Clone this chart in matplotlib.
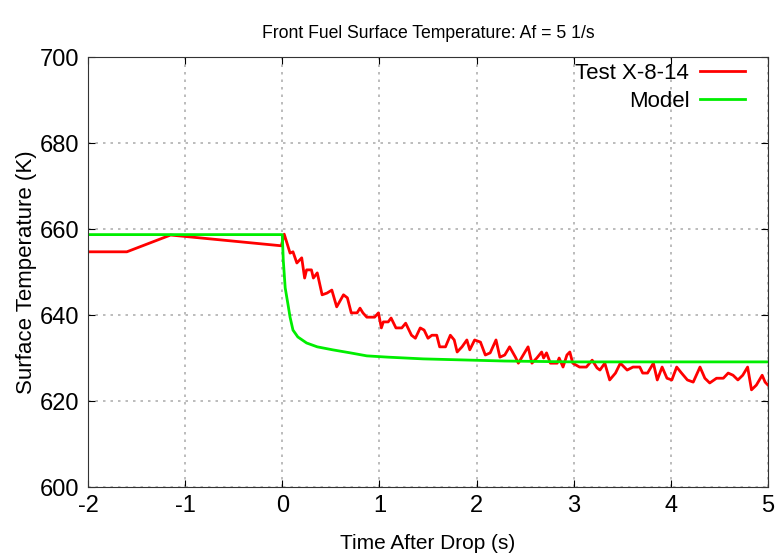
import matplotlib
matplotlib.use("Agg")
import matplotlib.pyplot as plt

plt.rcParams['font.family'] = ['Liberation Sans', 'DejaVu Sans']
plt.rcParams['axes.unicode_minus'] = False

test_t = [-2.0, -1.60, -1.15, -0.01, 0.02, 0.08, 0.11, 0.15, 0.20, 0.23, 0.25, 0.30,
          0.32, 0.36, 0.41, 0.46, 0.51, 0.56, 0.63, 0.67, 0.71, 0.77, 0.80, 0.83,
          0.87, 0.95, 0.99, 1.02, 1.04, 1.09, 1.12, 1.17, 1.23, 1.27, 1.33, 1.37,
          1.42, 1.46, 1.50, 1.54, 1.59, 1.62, 1.68, 1.73, 1.77, 1.80, 1.85, 1.90,
          1.93, 1.98, 2.04, 2.09, 2.14, 2.20, 2.24, 2.29, 2.34, 2.40, 2.43, 2.48,
          2.53, 2.57, 2.62, 2.67, 2.69, 2.72, 2.76, 2.83, 2.85, 2.89, 2.93, 2.96,
          2.99, 3.06, 3.13, 3.19, 3.24, 3.27, 3.32, 3.37, 3.43, 3.48, 3.55, 3.61,
          3.68, 3.71, 3.76, 3.82, 3.86, 3.91, 3.96, 4.01, 4.06, 4.11, 4.17, 4.23,
          4.30, 4.35, 4.40, 4.47, 4.54, 4.59, 4.64, 4.69, 4.74, 4.79, 4.83, 4.88,
          4.94, 4.97, 5.0]
test_T = [654.7, 654.7, 658.6, 656.1, 658.8, 654.4, 654.7, 652.1, 653.3, 648.6, 650.5, 650.5,
          648.6, 649.8, 644.7, 645.1, 645.8, 641.9, 644.7, 644.0, 640.5, 640.5, 641.6, 640.5,
          639.5, 639.5, 640.5, 637.0, 638.4, 638.4, 639.3, 637.0, 637.0, 638.1, 635.3, 634.6,
          637.0, 636.5, 634.6, 635.3, 635.3, 632.6, 632.6, 635.3, 634.2, 631.4, 632.6, 634.2,
          631.9, 634.2, 633.7, 630.7, 631.2, 634.2, 630.2, 630.7, 632.6, 630.2, 628.8, 630.7,
          632.6, 628.8, 630.0, 631.4, 630.0, 631.2, 628.8, 628.8, 630.0, 627.9, 630.7, 631.4,
          628.8, 627.9, 627.9, 629.5, 627.7, 627.2, 628.8, 624.9, 626.5, 628.8, 627.2, 627.9,
          627.9, 626.5, 626.5, 628.8, 624.9, 627.9, 625.3, 624.9, 627.9, 626.5, 624.9, 624.4,
          627.9, 625.3, 624.2, 625.3, 625.3, 626.5, 626.0, 624.9, 626.0, 627.9, 622.6, 623.7,
          626.0, 624.4, 623.7]

# Model prediction
model_t = [-2.0, 0.0, 0.01, 0.03, 0.06, 0.08, 0.11, 0.16, 0.25, 0.36, 0.52, 0.70,
           0.87, 1.09, 1.45, 2.29, 3.0, 5.0]
model_T = [658.7, 658.7, 652.8, 646.3, 642.3, 639.5, 636.5, 634.9, 633.5, 632.6, 631.9, 631.2,
           630.5, 630.2, 629.8, 629.3, 629.1, 629.1]

fig = plt.figure(figsize=(7.76, 5.53), dpi=100)
ax = fig.add_axes([0.1134, 0.1193, 0.8763, 0.7776])

ax.plot(test_t, test_T, color='#ff0000', lw=2, label='Test X-8-14')
ax.plot(model_t, model_T, color='#00ee00', lw=2, label='Model')

ax.set_xlim(-2, 5)
ax.set_ylim(600, 700)
ax.set_xticks(range(-2, 6))
ax.set_yticks(range(600, 701, 20))
ax.grid(True, color='#b0b0b0', linestyle=(0, (1.5, 3)), lw=1.2)
ax.tick_params(direction='in', top=True, right=True, labelsize=17, length=5, pad=6)
for s in ax.spines.values():
    s.set_linewidth(0.8)
    s.set_color('#333333')

ax.set_title('Front Fuel Surface Temperature: Af = 5 1/s', fontsize=12.7, pad=14)
ax.set_xlabel('Time After Drop (s)', fontsize=15, labelpad=12)
ax.set_ylabel('Surface Temperature (K)', fontsize=16, labelpad=2)

ax.legend(loc='upper right', bbox_to_anchor=(0.984, 1.014), frameon=False, fontsize=16,
          markerfirst=False, handlelength=2.0, borderaxespad=0.15, labelspacing=0.3,
          handletextpad=0.5)

fig.savefig('out.png', dpi=100)
